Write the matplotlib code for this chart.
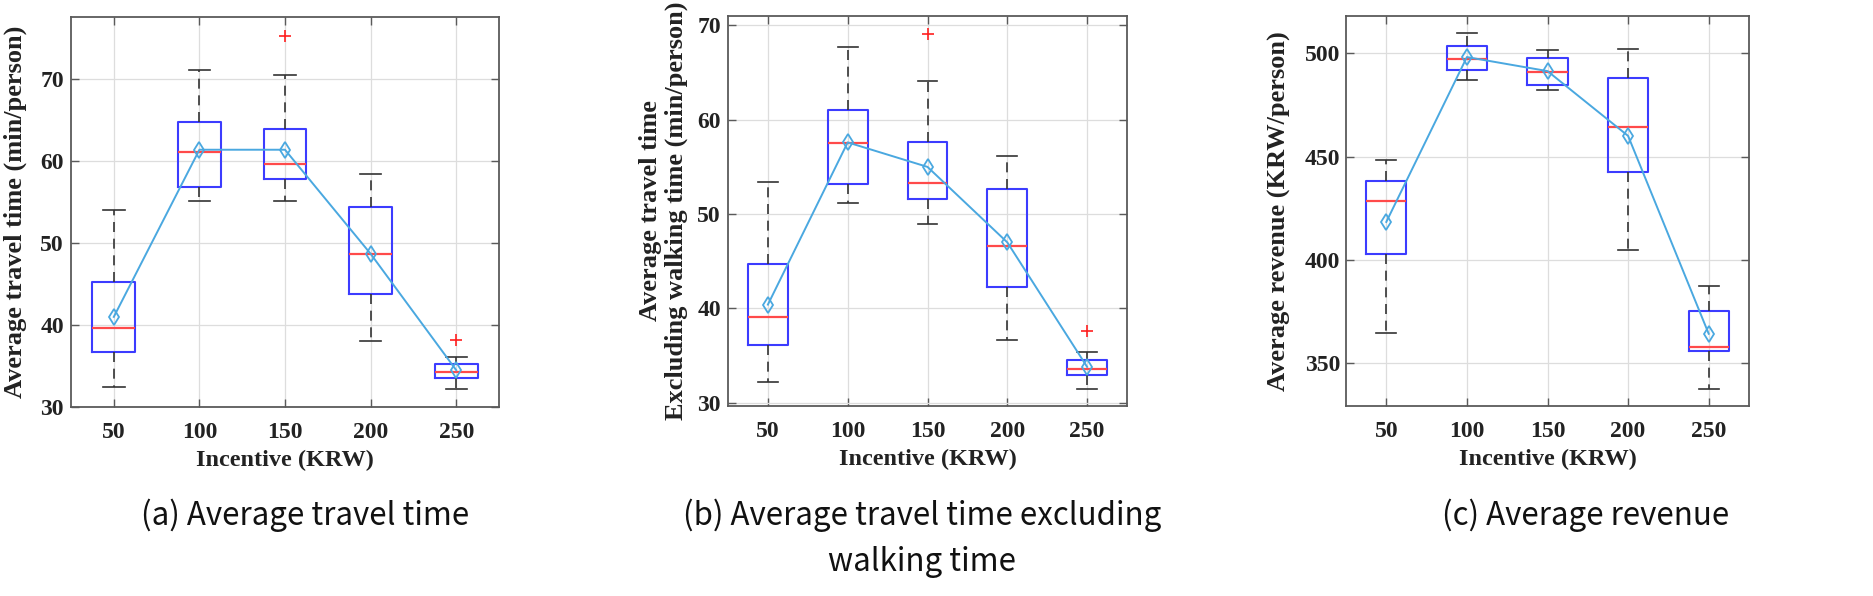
import matplotlib
matplotlib.use("Agg")
import matplotlib.pyplot as plt

# incentive levels (KRW)
incentives = [50, 100, 150, 200, 250]

# (a) average travel time (min/person)
a_whislo = [32.4, 55.1, 55.1, 38.1, 32.2]
a_q1 = [36.7, 56.8, 57.8, 43.8, 33.6]
a_med = [39.6, 61.1, 59.7, 48.7, 34.3]
a_q3 = [45.2, 64.8, 63.9, 54.4, 35.2]
a_whishi = [54.1, 71.1, 70.5, 58.4, 36.1]
a_mean = [41.0, 61.4, 61.4, 48.7, 34.5]
a_fliers = [[], [], [75.3], [], [38.2]]

# (b) average travel time excluding walking time (min/person)
b_whislo = [32.2, 51.2, 48.9, 36.7, 31.5]
b_q1 = [36.1, 53.2, 51.6, 42.3, 32.9]
b_med = [39.1, 57.5, 53.3, 46.6, 33.6]
b_q3 = [44.75, 61.0, 57.6, 52.7, 34.5]
b_whishi = [53.4, 67.7, 64.1, 56.2, 35.4]
b_mean = [40.4, 57.6, 55.0, 47.0, 33.8]
b_fliers = [[], [], [69.1], [], [37.6]]

# (c) average revenue (KRW/person)
c_whislo = [364.7, 486.9, 482.0, 404.9, 337.5]
c_q1 = [402.6, 491.9, 484.6, 442.6, 355.8]
c_med = [428.6, 497.2, 490.9, 464.4, 357.6]
c_q3 = [437.9, 503.4, 497.7, 488.2, 375.2]
c_whishi = [448.1, 509.9, 501.8, 501.9, 387.1]
c_mean = [418.3, 498.2, 491.4, 460.0, 364.1]
c_fliers = [[], [], [], [], []]

W, H = 1873, 596
SERIF = "Liberation Serif"


def make_stats(whislo, q1, med, q3, whishi, fliers):
    stats = []
    for i in range(len(med)):
        stats.append(dict(whislo=whislo[i], q1=q1[i], med=med[i], q3=q3[i],
                          whishi=whishi[i], fliers=fliers[i]))
    return stats


def draw_panel(ax, stats, means, ylim, yticks, ylabel, ypad, ylabelpad):
    ax.bxp(stats, positions=incentives, widths=25, capwidths=12.5,
           showfliers=True, patch_artist=False,
           boxprops=dict(color="#3c3cff", linewidth=1.5),
           medianprops=dict(color="#ff4a4a", linewidth=1.6),
           whiskerprops=dict(color="#333333", linewidth=1.2, linestyle=(0, (6, 4))),
           capprops=dict(color="#333333", linewidth=1.2),
           flierprops=dict(marker="+", markeredgecolor="#ff2020", markersize=8,
                           markeredgewidth=1.2, linestyle="none"))
    ax.plot(incentives, means, color="#4aa8e0", linewidth=1.4, marker="d",
            markersize=8, markerfacecolor="none", markeredgecolor="#4aa8e0",
            markeredgewidth=1.3, zorder=5)

    ax.set_xlim(25, 275)
    ax.set_ylim(*ylim)
    ax.set_xticks(incentives)
    ax.set_xticklabels([str(v) for v in incentives])
    ax.set_yticks(yticks)
    ax.grid(True, color="#dddddd", linewidth=0.9)
    ax.set_axisbelow(True)
    for sp in ax.spines.values():
        sp.set_color("#5a5a5a")
        sp.set_linewidth(1.3)
    ax.tick_params(axis="both", direction="in", length=6, width=1,
                   color="#5a5a5a", top=True, right=True,
                   labelsize=17, labelcolor="#222222")
    ax.tick_params(axis="x", pad=11)
    ax.tick_params(axis="y", pad=ypad)
    for lab in ax.get_xticklabels() + ax.get_yticklabels():
        lab.set_fontfamily(SERIF)
        lab.set_fontweight("bold")
    ax.set_xlabel("Incentive (KRW)", fontsize=17.5, fontweight="bold",
                  family=SERIF, color="#222222", labelpad=5)
    ax.set_ylabel(ylabel, fontsize=19, fontweight="bold", family=SERIF,
                  color="#222222", labelpad=ylabelpad, linespacing=1.1)


def px_axes(fig, left, top, right, bottom):
    return fig.add_axes([left / W, 1 - bottom / H, (right - left) / W, (bottom - top) / H])


fig = plt.figure(figsize=(W / 100, H / 100), dpi=100)

ax_a = px_axes(fig, 71, 17, 499, 407)
draw_panel(ax_a, make_stats(a_whislo, a_q1, a_med, a_q3, a_whishi, a_fliers), a_mean,
           (30, 77.6), [30, 40, 50, 60, 70], "Average travel time (min/person)", 5, 10)

ax_b = px_axes(fig, 728, 16, 1127, 406)
draw_panel(ax_b, make_stats(b_whislo, b_q1, b_med, b_q3, b_whishi, b_fliers), b_mean,
           (29.65, 71.0), [30, 40, 50, 60, 70],
           "Average travel time\nExcluding walking time (min/person)", 5, 7)

ax_c = px_axes(fig, 1346, 16, 1749, 406)
draw_panel(ax_c, make_stats(c_whislo, c_q1, c_med, c_q3, c_whishi, c_fliers), c_mean,
           (329.1, 518.1), [350, 400, 450, 500], "Average revenue (KRW/person)", 4, 10)

# captions under each panel
cap_font = ["Noto Sans CJK KR", "DejaVu Sans"]
cap_kw = dict(ha="center", va="center", fontsize=22.5, family=cap_font,
              color="#111111", fontweight="medium")
fig.text(305 / W, 1 - 515 / H, "(a) Average travel time", **cap_kw)
fig.text(922 / W, 1 - 538 / H, "(b) Average travel time excluding\nwalking time",
         linespacing=1.55, **cap_kw)
fig.text(1586 / W, 1 - 515 / H, "(c) Average revenue", **cap_kw)

fig.savefig("out.png", dpi=100, facecolor="white")
